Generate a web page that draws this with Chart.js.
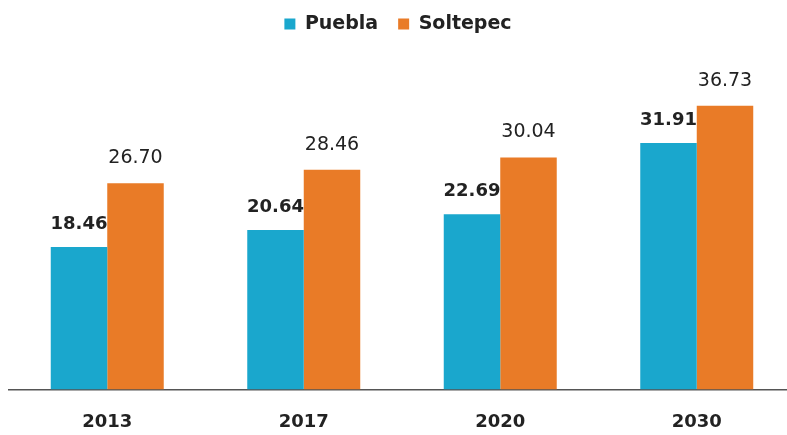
<!DOCTYPE html>
<html>
<head>
<meta charset="utf-8">
<script src="https://cdn.jsdelivr.net/npm/chart.js@4/dist/chart.umd.min.js"></script>
<style>
html,body{margin:0;padding:0;background:#fff;overflow:hidden;width:787px;height:435px;}
#wrap{position:absolute;left:0;top:0;width:800px;height:435px;}
</style>
</head>
<body>
<div id="wrap"><canvas id="c" width="800" height="435"></canvas></div>
<script>
const categories = ['2013', '2017', '2020', '2030'];
const seriesNames = ['Puebla', 'Soltepec'];
const pueblaValues = [18.46, 20.64, 22.69, 31.91];
const soltepecValues = [26.70, 28.46, 30.04, 36.73];

const BLUE = '#1aa7cd';
const ORANGE = '#e97b27';
const FONT = 'DejaVu Sans';

const valueLabels = {
  id: 'valueLabels',
  afterDatasetsDraw(chart) {
    const ctx = chart.ctx;
    ctx.save();
    ctx.textAlign = 'center';
    ctx.textBaseline = 'middle';
    ctx.fillStyle = '#222';
    chart.data.datasets.forEach((ds, di) => {
      const meta = chart.getDatasetMeta(di);
      ctx.font = di === 0 ? 'bold 18px "' + FONT + '"' : '19px "' + FONT + '"';
      meta.data.forEach((bar, i) => {
        ctx.fillText(ds.data[i].toFixed(2), bar.x, bar.y - (di === 0 ? 23 : 25));
      });
    });
    ctx.restore();
  }
};

const legendShift = {
  id: 'legendShift',
  afterLayout(chart) {
    if (chart.legend) { chart.legend.left -= 4; chart.legend.right -= 4; }
  }
};

new Chart(document.getElementById('c'), {
  type: 'bar',
  data: {
    labels: categories,
    datasets: [
      { label: seriesNames[0], data: pueblaValues, backgroundColor: BLUE, borderWidth: 0 },
      { label: seriesNames[1], data: soltepecValues, backgroundColor: ORANGE, borderWidth: 0 }
    ]
  },
  options: {
    responsive: false,
    animation: false,
    layout: { padding: { left: 9, right: 5, top: -5.5, bottom: 2 } },
    datasets: { bar: { barPercentage: 1.0, categoryPercentage: 0.575 } },
    plugins: {
      legend: {
        position: 'top',
        labels: {
          boxWidth: 11, boxHeight: 11, padding: 20,
          color: '#222',
          font: { family: FONT, size: 19, weight: 'bold' }
        }
      },
      tooltip: { enabled: false }
    },
    scales: {
      x: {
        grid: { display: false, drawTicks: false },
        border: { display: true, color: '#555', width: 1.5 },
        ticks: { color: '#222', padding: 22, font: { family: FONT, size: 18, weight: 'bold' } },
        afterFit(scale) { scale.height = 43.5; }
      },
      y: {
        display: false,
        min: 0,
        max: 44.8
      }
    }
  },
  plugins: [valueLabels, legendShift]
});
</script>
</body>
</html>
